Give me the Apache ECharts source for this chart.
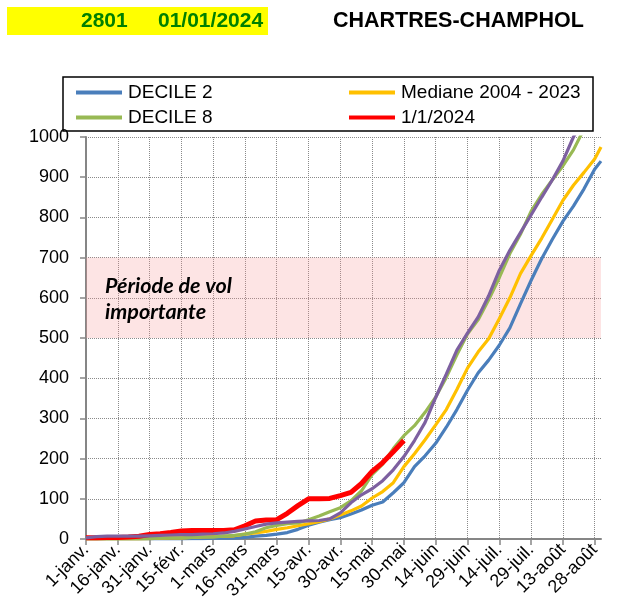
<!DOCTYPE html>
<html>
<head>
<meta charset="utf-8">
<script src="https://cdn.jsdelivr.net/npm/echarts@6/dist/echarts.min.js"></script>
<style>
html,body{margin:0;padding:0;background:#fff;}
#chart{width:635px;height:608px;}
</style>
</head>
<body>
<div id="chart"></div>
<script>
// Tick labels every 15 days starting 1 Jan (2024, leap year)
var tickLabels = ['1-janv.','16-janv.','31-janv.','15-févr.','1-mars','16-mars','31-mars','15-avr.','30-avr.','15-mai','30-mai','14-juin','29-juin','14-juil.','29-juil.','13-août','28-août'];
var nDays = 244; // 1 janv .. 31 août

// Sample days (day index from 1 janv)
var days = [0,5,10,15,20,25,30,35,40,45,50,55,60,65,70,75,80,85,90,95,100,105,110,115,120,125,130,135,140,145,150,155,160,165,170,175,180,185,190,195,200,205,210,215,220,225,230,235,240,243];

var decile2 = [0,0,0,0,0,0,0,0,0,0,1,1,2,2,2,4,7,9,12,16,24,34,42,48,53,62,72,84,92,115,140,180,207,238,278,322,370,413,445,482,525,585,643,697,745,790,828,871,920,940];
var mediane = [0,0,0,0,0,0,1,2,3,3,4,5,6,7,8,12,15,19,24,28,33,38,43,50,60,70,82,102,118,140,180,212,247,284,322,372,425,465,498,548,600,660,705,748,795,842,880,912,945,975];
var decile8 = [0,0,0,0,0,0,1,2,3,3,4,5,5,7,9,12,18,28,34,38,40,48,57,68,78,95,120,160,186,225,257,282,315,353,402,458,510,545,595,650,710,758,815,857,893,928,968,1020,null,null];
var autre = [3,6,7,7,7,7,8,9,10,11,11,12,13,15,19,25,31,37,40,42,44,45,46,50,65,90,110,125,145,172,205,245,290,352,410,470,512,552,605,668,718,762,806,850,893,940,1000,1045,null,null];
var an2024 = [3,3,4,4,5,7,11,13,16,20,21,21,21,21,23,33,45,47,48,64,83,100,100,101,108,116,138,168,190,217,245,null,null,null,null,null,null,null,null,null,null,null,null,null,null,null,null,null,null,null];

var FONT = 'Liberation Sans, Arial, sans-serif';

var cats = [];
for (var i = 0; i < nDays; i++) cats.push(i % 15 === 0 ? tickLabels[i / 15] : '');

function pairs(vals) {
  var out = [];
  for (var i = 0; i < days.length; i++) {
    if (vals[i] !== null && vals[i] !== undefined) out.push([days[i], vals[i]]);
  }
  return out;
}

var chart = echarts.init(document.getElementById('chart'), null, {renderer: 'canvas'});

function leg(name, left, top) {
  return {
    data: [name], left: left, top: top, icon: 'rect', itemWidth: 46, itemHeight: 4,
    itemGap: 0, padding: 0,
    textStyle: {fontSize: 19, fontFamily: FONT, color: '#000', padding: [0, 0, 0, 1]}
  };
}

var option = {
  animation: false,
  backgroundColor: '#fff',
  grid: {left: 86, right: 34, top: 137, bottom: 69, containLabel: false},
  legend: [
    leg('DECILE 2', 76, 83),
    leg('Mediane 2004 - 2023', 349, 83),
    leg('DECILE 8', 76, 108),
    leg('1/1/2024', 349, 108)
  ],
  xAxis: {
    type: 'category', data: cats, boundaryGap: false,
    axisLine: {lineStyle: {color: '#868686', width: 2}},
    axisTick: {interval: 14, length: 6, lineStyle: {color: '#868686', width: 1.5}},
    axisLabel: {interval: 14, rotate: 45, fontSize: 18, fontFamily: FONT, color: '#000', margin: 8},
    splitLine: {show: true, interval: 14, lineStyle: {type: 'dotted', color: '#8a8a8a', width: 1}}
  },
  yAxis: {
    type: 'value', min: 0, max: 1000, interval: 100,
    axisLine: {show: true, lineStyle: {color: '#868686', width: 2}},
    axisTick: {show: true, length: 6, lineStyle: {color: '#868686', width: 1.5}},
    axisLabel: {fontSize: 18, fontFamily: FONT, color: '#000', margin: 17, formatter: function (v) { return String(v); }},
    splitLine: {show: true, lineStyle: {type: 'dotted', color: '#8a8a8a', width: 1}}
  },
  series: [
    {name: 'DECILE 2', type: 'line', data: pairs(decile2), symbol: 'none', color: '#4A7EBB',
     lineStyle: {width: 3.2, color: '#4A7EBB'},
     markArea: {silent: true, itemStyle: {color: 'rgba(247,147,147,0.25)'}, data: [[{yAxis: 500}, {yAxis: 700}]]}},
    {name: 'Mediane 2004 - 2023', type: 'line', data: pairs(mediane), symbol: 'none', color: '#FFC000',
     lineStyle: {width: 3.2, color: '#FFC000'}},
    {name: 'DECILE 8', type: 'line', data: pairs(decile8), symbol: 'none', color: '#98B954',
     lineStyle: {width: 3.2, color: '#98B954'}},
    {name: '1/1/2024', type: 'line', data: pairs(an2024), symbol: 'none', color: '#FF0000',
     lineStyle: {width: 5, color: '#FF0000'}},
    {name: 'autre', type: 'line', data: pairs(autre), symbol: 'none', color: '#7D60A0',
     lineStyle: {width: 3.2, color: '#7D60A0'}}
  ],
  graphic: [
    {type: 'rect', shape: {x: 7, y: 7, width: 261, height: 28}, style: {fill: '#FFFF00'}, z: 0},
    {type: 'text', style: {text: '2801', x: 81, y: 21, font: 'bold 21px ' + FONT, fill: '#008000', verticalAlign: 'middle'}},
    {type: 'text', style: {text: '01/01/2024', x: 158, y: 21, font: 'bold 21px ' + FONT, fill: '#008000', verticalAlign: 'middle'}},
    {type: 'text', style: {text: 'CHARTRES-CHAMPHOL', x: 333, y: 21, font: 'bold 21.5px ' + FONT, fill: '#000', verticalAlign: 'middle'}},
    {type: 'rect', shape: {x: 63, y: 77, width: 530, height: 54}, style: {fill: 'none', stroke: '#000', lineWidth: 1.5}},
    {type: 'text', style: {text: 'Période de vol', x: 105, y: 286, font: 'italic bold 21.5px Lato, sans-serif', fill: '#000', verticalAlign: 'middle'}, z: 10},
    {type: 'text', style: {text: 'importante', x: 105, y: 312, font: 'italic bold 21.5px Lato, sans-serif', fill: '#000', verticalAlign: 'middle'}, z: 10}
  ]
};
chart.setOption(option);
</script>
</body>
</html>
